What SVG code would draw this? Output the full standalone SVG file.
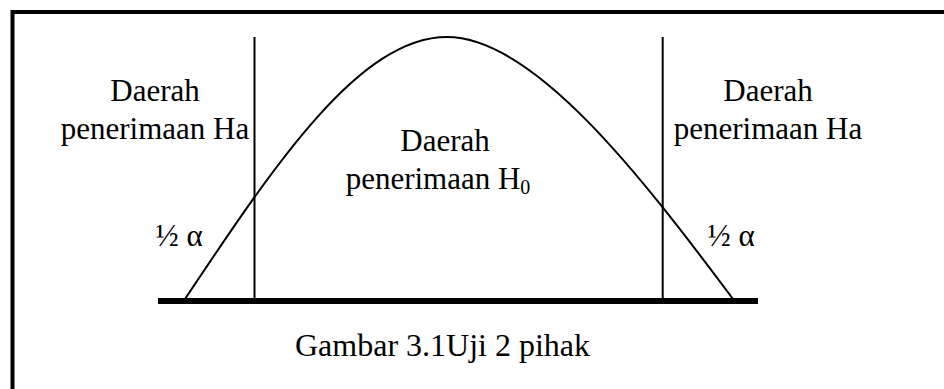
<svg xmlns="http://www.w3.org/2000/svg" width="944" height="389" viewBox="0 0 944 389">
<style>
text{font-family:'Liberation Serif',Tinos,'Nimbus Roman','Times New Roman',Times,'DejaVu Serif',serif;fill:#000;text-anchor:middle}
.lbl{font-size:31px}
.cap{font-size:32px}
.ln{stroke:#000;fill:none}
</style>
<rect x="0" y="0" width="944" height="389" fill="#fff"/>
<g id="frame">
<path class="ln" d="M12.5,389 V12 H944" stroke-width="4"/>
</g>
<g id="connectors">
<path id="curve" class="ln" stroke-width="2" d="M185,299 C275,164 360,37 447,37 C534,37 641,176 733,299"/>
<line id="crit-left" class="ln" stroke-width="2" x1="254.5" y1="37" x2="254.5" y2="300"/>
<line id="crit-right" class="ln" stroke-width="2" x1="662.7" y1="37" x2="662.7" y2="300"/>
<line id="axis" class="ln" stroke-width="6" x1="158" y1="301" x2="758" y2="301"/>
</g>
<g id="left-region">
<text class="lbl" font-family="Liberation Serif, serif" x="155" y="101">Daerah</text>
<text class="lbl" font-family="Liberation Serif, serif" x="155" y="139">penerimaan Ha</text>
</g>
<g id="right-region">
<text class="lbl" font-family="Liberation Serif, serif" x="768" y="101">Daerah</text>
<text class="lbl" font-family="Liberation Serif, serif" x="768" y="139">penerimaan Ha</text>
</g>
<g id="center-region">
<text class="lbl" font-family="Liberation Serif, serif" x="445" y="151">Daerah</text>
<text class="lbl" font-family="Liberation Serif, serif" x="438" y="189">penerimaan H<tspan font-size="20" dy="5">0</tspan></text>
</g>
<g id="alpha-left">
<text class="lbl" font-family="Liberation Serif, serif" x="179" y="246">½ α</text>
</g>
<g id="alpha-right">
<text class="lbl" font-family="Liberation Serif, serif" x="731" y="246">½ α</text>
</g>
<g id="caption">
<text class="cap" font-family="Liberation Serif, serif" x="442.5" y="356">Gambar 3.1Uji 2 pihak</text>
</g>
</svg>
